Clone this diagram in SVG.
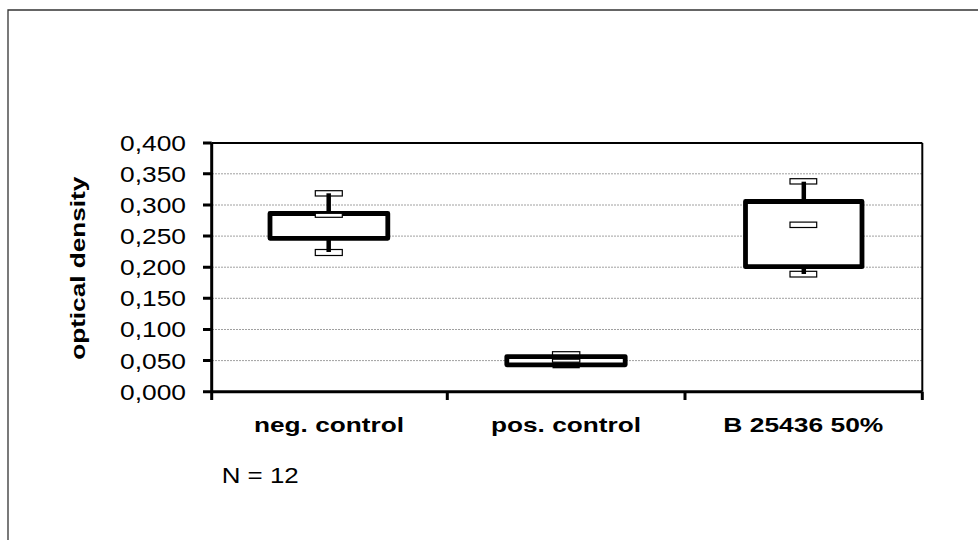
<svg xmlns="http://www.w3.org/2000/svg" width="978" height="540" viewBox="0 0 978 540">
<style>
text{font-family:"Liberation Sans",Arial,sans-serif;fill:#000}
.tl{font-size:22px}
.cat{font-size:21px;font-weight:bold;text-anchor:start}
.grid{stroke:#a0a0a0;stroke-width:1;stroke-dasharray:2 1;fill:none}
.ax{stroke:#000;stroke-width:3;fill:none}
.fr{stroke:#000;stroke-width:2;fill:none}
.box{fill:#fff;stroke:#000;stroke-width:4.8;stroke-linejoin:round}
.cap{fill:#fff;stroke:#000;stroke-width:1.2}
.wh{stroke:#000;stroke-width:4.5}
</style>
<rect width="978" height="540" fill="#fff"/>
<path d="M8,540 V10 H978" fill="none" stroke="#333" stroke-width="1.3"/>
<g id="grid">
<line class="grid" x1="212" y1="173.8" x2="922" y2="173.8"/>
<line class="grid" x1="212" y1="205" x2="922" y2="205"/>
<line class="grid" x1="212" y1="236.1" x2="922" y2="236.1"/>
<line class="grid" x1="212" y1="267.2" x2="922" y2="267.2"/>
<line class="grid" x1="212" y1="298.3" x2="922" y2="298.3"/>
<line class="grid" x1="212" y1="329.5" x2="922" y2="329.5"/>
<line class="grid" x1="212" y1="360.6" x2="922" y2="360.6"/>
</g>
<g id="axes">
<line class="fr" x1="211.7" y1="142.9" x2="922.3" y2="142.9"/>
<line class="fr" x1="922.3" y1="142.9" x2="922.3" y2="391.7"/>
<line class="ax" x1="211.7" y1="142.7" x2="211.7" y2="400"/>
<line class="ax" x1="203" y1="391.7" x2="922.3" y2="391.7"/>
<path class="ax" d="M203,142.9H211.7M203,173.8H211.7M203,205H211.7M203,236.1H211.7M203,267.2H211.7M203,298.3H211.7M203,329.5H211.7M203,360.6H211.7"/>
<path class="ax" d="M447.3,391.7V400M685,391.7V400M922.3,391.7V400"/>
</g>
<g id="ylabels" class="tl">
<text x="120" y="150.8" textLength="66" lengthAdjust="spacingAndGlyphs">0,400</text>
<text x="120" y="181.7" textLength="66" lengthAdjust="spacingAndGlyphs">0,350</text>
<text x="120" y="212.9" textLength="66" lengthAdjust="spacingAndGlyphs">0,300</text>
<text x="120" y="244" textLength="66" lengthAdjust="spacingAndGlyphs">0,250</text>
<text x="120" y="275.1" textLength="66" lengthAdjust="spacingAndGlyphs">0,200</text>
<text x="120" y="306.2" textLength="66" lengthAdjust="spacingAndGlyphs">0,150</text>
<text x="120" y="337.4" textLength="66" lengthAdjust="spacingAndGlyphs">0,100</text>
<text x="120" y="368.5" textLength="66" lengthAdjust="spacingAndGlyphs">0,050</text>
<text x="120" y="399.6" textLength="66" lengthAdjust="spacingAndGlyphs">0,000</text>
</g>
<g id="ytitle">
<text transform="translate(84.6,268.3) rotate(-90)" x="-91.5" y="0" class="cat" textLength="183" lengthAdjust="spacingAndGlyphs">optical density</text>
</g>
<g id="neg-control">
<rect class="box" x="270" y="213.5" width="117.8" height="24.8"/>
<rect class="cap" x="315.3" y="190.7" width="27" height="5.3"/>
<line class="wh" x1="328.7" y1="193.3" x2="328.7" y2="213.5"/>
<rect class="cap" x="315.3" y="249.5" width="27" height="6"/>
<line class="wh" x1="328.7" y1="238.3" x2="328.7" y2="252"/>
<rect class="cap" x="315.3" y="213.3" width="27" height="4"/>
<text class="cat" x="254" y="432" textLength="150" lengthAdjust="spacingAndGlyphs">neg. control</text>
</g>
<g id="pos-control">
<rect class="cap" x="552.5" y="351.7" width="27.3" height="4"/>
<rect class="box" x="506.8" y="356.6" width="118.4" height="8.2"/>
<rect x="552.5" y="362.5" width="27.3" height="5.8" fill="#000"/>
<rect class="cap" x="552.5" y="359.2" width="27.3" height="3"/>
<text class="cat" x="491" y="432" textLength="150" lengthAdjust="spacingAndGlyphs">pos. control</text>
</g>
<g id="b25436">
<rect class="box" x="745.5" y="201.5" width="116.5" height="65.2"/>
<rect class="cap" x="790" y="178.7" width="26.7" height="5.3"/>
<line class="wh" x1="803.8" y1="181.7" x2="803.8" y2="201.5"/>
<rect class="cap" x="790" y="271.3" width="26.7" height="5.7"/>
<line class="wh" x1="803.8" y1="266.7" x2="803.8" y2="274"/>
<rect class="cap" x="790" y="222.1" width="26.7" height="5.4"/>
<text class="cat" x="723.3" y="432" textLength="160" lengthAdjust="spacingAndGlyphs">B 25436 50%</text>
</g>
<g id="note">
<text class="tl" x="221.7" y="483" textLength="77" lengthAdjust="spacingAndGlyphs">N = 12</text>
</g>
</svg>
